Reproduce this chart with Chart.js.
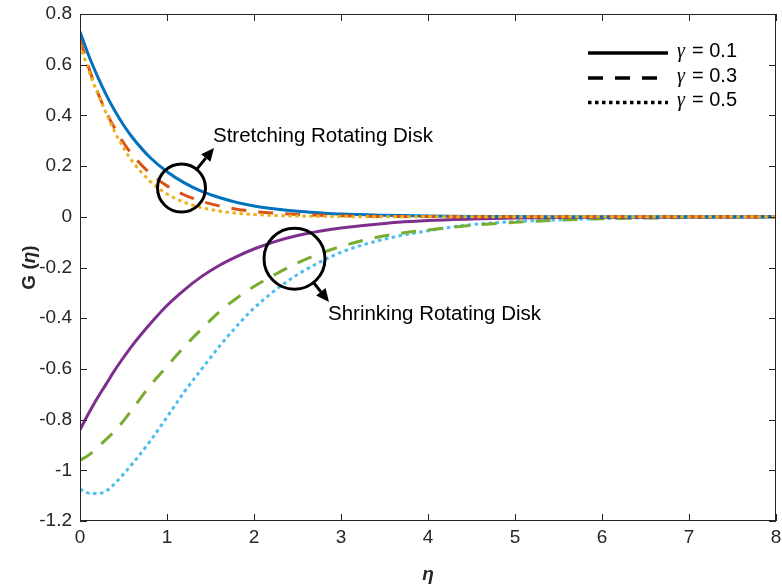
<!DOCTYPE html>
<html>
<head>
<meta charset="utf-8">
<script src="https://cdn.jsdelivr.net/npm/chart.js@4.4.1/dist/chart.umd.min.js"></script>
<style>
    body { margin: 0; background: #fff; }
    #wrap { width: 782px; height: 588px; }
</style>
</head>
<body>
<div id="wrap"><canvas id="gChart" width="782" height="588"></canvas></div>
<script>
const FONT = 'Arial, "Liberation Sans", Helvetica, sans-serif';
const AXIS_COLOR = '#262626';

const eta = [0, 0.1, 0.2, 0.3, 0.4, 0.5, 0.6, 0.8, 1.0, 1.2, 1.4, 1.6, 1.8, 2.0, 2.25, 2.5, 2.75, 3.0, 3.5, 4.0, 4.5, 5.0, 5.5, 6, 7, 8];

// stretching disk
const gStretch01 = [0.730, 0.636, 0.555, 0.482, 0.418, 0.362, 0.314, 0.236, 0.178, 0.134, 0.100, 0.076, 0.057, 0.043, 0.031, 0.022, 0.016, 0.011, 0.006, 0.003, 0.0015, 0.001, 0.0005, 0, 0, 0];
const gStretch03 = [0.700, 0.589, 0.493, 0.414, 0.348, 0.292, 0.245, 0.173, 0.122, 0.086, 0.061, 0.043, 0.030, 0.021, 0.014, 0.009, 0.006, 0.004, 0.0015, 0.001, 0, 0, 0, 0, 0, 0];
const gStretch05 = [0.680, 0.577, 0.490, 0.410, 0.335, 0.272, 0.220, 0.142, 0.090, 0.057, 0.036, 0.023, 0.014, 0.009, 0.005, 0.003, 0.002, 0.001, 0, 0, 0, 0, 0, 0, 0, 0];

// shrinking disk
const gShrink01 = [-0.840, -0.775, -0.715, -0.660, -0.605, -0.555, -0.508, -0.425, -0.350, -0.288, -0.235, -0.192, -0.157, -0.127, -0.097, -0.074, -0.057, -0.044, -0.026, -0.015, -0.009, -0.005, -0.003, -0.002, -0.001, 0];
const gShrink03 = [-0.960, -0.940, -0.910, -0.878, -0.845, -0.805, -0.760, -0.669, -0.590, -0.512, -0.442, -0.375, -0.321, -0.275, -0.226, -0.182, -0.146, -0.117, -0.075, -0.052, -0.034, -0.022, -0.013, -0.008, -0.003, -0.001];
const gShrink05 = [-1.074, -1.090, -1.092, -1.082, -1.052, -1.015, -0.975, -0.888, -0.790, -0.690, -0.600, -0.512, -0.432, -0.360, -0.288, -0.228, -0.180, -0.140, -0.088, -0.055, -0.031, -0.019, -0.012, -0.007, -0.002, 0];

const xTicks = [0, 1, 2, 3, 4, 5, 6, 7, 8];
const yTicks = [-1.2, -1, -0.8, -0.6, -0.4, -0.2, 0, 0.2, 0.4, 0.6, 0.8];
const gammaLabels = ['0.1', '0.3', '0.5'];

const SOLID = [];
const DASHED = [15, 12];
const DOTTED = [3.5, 3.5];

function makeSet(label, values, color, dash) {
    return {
        label: label,
        data: eta.map((x, i) => ({ x: x, y: values[i] })),
        borderColor: color,
        borderWidth: 3,
        borderDash: dash,
        borderCapStyle: 'butt',
        pointRadius: 0,
        fill: false,
        cubicInterpolationMode: 'monotone'
    };
}

// box, inward ticks, axis titles, legend and annotations
const decorPlugin = {
    id: 'decor',
    afterDatasetsDraw(chart) {
        const ctx = chart.ctx;
        const a = chart.chartArea;
        const xs = chart.scales.x;
        const ys = chart.scales.y;
        ctx.save();

        // box
        ctx.strokeStyle = AXIS_COLOR;
        ctx.lineWidth = 1;
        ctx.setLineDash([]);
        ctx.strokeRect(a.left + 0.5, a.top + 0.5, a.right - a.left - 1, a.bottom - a.top - 1);

        // inward ticks
        const tl = 7;
        ctx.beginPath();
        xTicks.forEach(v => {
            const px = Math.round(xs.getPixelForValue(v)) + 0.5;
            ctx.moveTo(px, a.bottom); ctx.lineTo(px, a.bottom - tl);
            ctx.moveTo(px, a.top); ctx.lineTo(px, a.top + tl);
        });
        yTicks.forEach(v => {
            const py = Math.round(ys.getPixelForValue(v)) + 0.5;
            ctx.moveTo(a.left, py); ctx.lineTo(a.left + tl, py);
            ctx.moveTo(a.right, py); ctx.lineTo(a.right - tl, py);
        });
        ctx.stroke();

        // axis titles
        ctx.fillStyle = AXIS_COLOR;
        ctx.textBaseline = 'middle';
        ctx.font = 'italic bold 19px ' + FONT;
        ctx.textAlign = 'center';
        ctx.fillText('\u03B7', (a.left + a.right) / 2, 575);

        ctx.save();
        ctx.translate(30, (a.top + a.bottom) / 2);
        ctx.rotate(-Math.PI / 2);
        const parts = [['G (', 'bold 19px '], ['\u03B7', 'italic bold 19px '], [')', 'bold 19px ']];
        let total = 0;
        parts.forEach(p => { ctx.font = p[1] + FONT; total += ctx.measureText(p[0]).width; });
        let cx = -total / 2;
        ctx.textAlign = 'left';
        parts.forEach(p => {
            ctx.font = p[1] + FONT;
            ctx.fillText(p[0], cx, 0);
            cx += ctx.measureText(p[0]).width;
        });
        ctx.restore();

        // legend
        const dashes = [SOLID, DASHED, DOTTED];
        const rowsY = [53, 78, 102.5];
        ctx.strokeStyle = '#000';
        ctx.fillStyle = '#000';
        ctx.textBaseline = 'alphabetic';
        ctx.textAlign = 'left';
        rowsY.forEach((y, i) => {
            ctx.lineWidth = 3.5;
            ctx.setLineDash(dashes[i]);
            ctx.beginPath();
            ctx.moveTo(588, y); ctx.lineTo(668, y);
            ctx.stroke();
            ctx.setLineDash([]);
            ctx.font = 'italic 20px "Liberation Serif", "Times New Roman", serif';
            ctx.fillText('\u03B3', 677, y + 3.7);
            ctx.font = '20px ' + FONT;
            ctx.fillText('= ' + gammaLabels[i], 692, y + 3.7);
        });

        // annotations
        ctx.lineWidth = 3;
        ctx.strokeStyle = '#000';
        drawNote(ctx, 181.5, 188, 24, 214, 148);
        drawNote(ctx, 294.5, 258.7, 30.5, 329, 302);
        ctx.font = '20.5px ' + FONT;
        ctx.fillStyle = '#000';
        ctx.fillText('Stretching Rotating Disk', 213, 141.7);
        ctx.fillText('Shrinking Rotating Disk', 328, 320);

        ctx.restore();
    }
};

function drawNote(ctx, cx, cy, r, tx, ty) {
    ctx.beginPath();
    ctx.arc(cx, cy, r, 0, Math.PI * 2);
    ctx.stroke();
    const ang = Math.atan2(ty - cy, tx - cx);
    const sx = cx + r * Math.cos(ang);
    const sy = cy + r * Math.sin(ang);
    const head = 13;
    const bx = tx - head * Math.cos(ang);
    const by = ty - head * Math.sin(ang);
    ctx.beginPath();
    ctx.moveTo(sx, sy);
    ctx.lineTo(bx, by);
    ctx.stroke();
    const w = 6;
    ctx.beginPath();
    ctx.moveTo(tx, ty);
    ctx.lineTo(bx + w * Math.sin(ang), by - w * Math.cos(ang));
    ctx.lineTo(bx - w * Math.sin(ang), by + w * Math.cos(ang));
    ctx.closePath();
    ctx.fillStyle = '#000';
    ctx.fill();
}

function noPad(scale) {
    scale.paddingTop = 0;
    scale.paddingBottom = 0;
    scale.paddingLeft = 0;
    scale.paddingRight = 0;
}

document.addEventListener('DOMContentLoaded', function() {
    const ctx = document.getElementById('gChart').getContext('2d');

    new Chart(ctx, {
        type: 'line',
        data: {
            datasets: [
                makeSet('Stretching \u03B3 = 0.5', gStretch05, '#EDB120', DOTTED),
                makeSet('Stretching \u03B3 = 0.3', gStretch03, '#D95319', DASHED),
                makeSet('Stretching \u03B3 = 0.1', gStretch01, '#0072BD', SOLID),
                makeSet('Shrinking \u03B3 = 0.1', gShrink01, '#7E2F8E', SOLID),
                makeSet('Shrinking \u03B3 = 0.3', gShrink03, '#77AC30', DASHED),
                makeSet('Shrinking \u03B3 = 0.5', gShrink05, '#4DBEEE', DOTTED)
            ]
        },
        options: {
            responsive: false,
            animation: false,
            devicePixelRatio: 1,
            layout: {
                padding: { top: 14, right: 6, left: 0, bottom: 0 }
            },
            plugins: {
                legend: { display: false },
                tooltip: { enabled: false }
            },
            scales: {
                x: {
                    type: 'linear',
                    min: 0,
                    max: 8,
                    grid: { display: false, drawTicks: false, tickLength: 0 },
                    border: { display: false },
                    afterBuildTicks: scale => { scale.ticks = xTicks.map(v => ({ value: v })); },
                    afterFit: scale => { scale.height = 67; noPad(scale); },
                    ticks: {
                        color: AXIS_COLOR,
                        padding: 5,
                        maxRotation: 0,
                        font: { family: FONT, size: 19 },
                        callback: v => String(v)
                    }
                },
                y: {
                    type: 'linear',
                    min: -1.2,
                    max: 0.8,
                    grid: { display: false, drawTicks: false, tickLength: 0 },
                    border: { display: false },
                    afterBuildTicks: scale => { scale.ticks = yTicks.map(v => ({ value: v })); },
                    afterFit: scale => { scale.width = 80; noPad(scale); },
                    ticks: {
                        color: AXIS_COLOR,
                        padding: 8,
                        font: { family: FONT, size: 19 },
                        callback: v => String(+v.toFixed(1))
                    }
                }
            }
        },
        plugins: [decorPlugin]
    });
});
</script>
</body>
</html>
